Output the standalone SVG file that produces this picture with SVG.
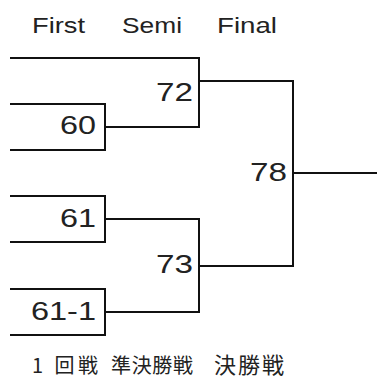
<svg xmlns="http://www.w3.org/2000/svg" width="377" height="379" viewBox="0 0 377 379">
<style>
.ln{fill:none;stroke:#111;stroke-width:2;stroke-linecap:square}
.lat{font-family:"Liberation Sans",Arial,sans-serif;fill:#222}
.num{font-family:"Liberation Sans",Arial,sans-serif;font-size:25px;fill:#222;text-anchor:end}
.jp{font-family:"Noto Sans CJK JP","Noto Sans",sans-serif;fill:#222}
</style>
<rect width="377" height="379" fill="#fff"/>
<g id="headers">
<text class="lat" x="32" y="33" font-size="22" textLength="53" lengthAdjust="spacingAndGlyphs">First</text>
<text class="lat" x="122" y="33" font-size="22" textLength="60" lengthAdjust="spacingAndGlyphs">Semi</text>
<text class="lat" x="217" y="33" font-size="22" textLength="60" lengthAdjust="spacingAndGlyphs">Final</text>
</g>
<g id="connectors">
<path class="ln" d="M11,58 H199 V127 H105"/>
<path class="ln" d="M199,81 H293 V266 H199"/>
<path class="ln" d="M293,173 H376"/>
<path class="ln" d="M105,219 H199 V312 H105"/>
</g>
<g id="m60">
<path class="ln" d="M11,104 H105 V150 H11"/>
<text class="num" x="96" y="134" textLength="36" lengthAdjust="spacingAndGlyphs">60</text>
</g>
<g id="m61">
<path class="ln" d="M11,196 H105 V242 H11"/>
<text class="num" x="96" y="227" textLength="36" lengthAdjust="spacingAndGlyphs">61</text>
</g>
<g id="m61-1">
<path class="ln" d="M11,289 H105 V335 H11"/>
<text class="num" x="96" y="320" textLength="65" lengthAdjust="spacingAndGlyphs">61-1</text>
</g>
<g id="m72">
<text class="num" x="193" y="101" textLength="37" lengthAdjust="spacingAndGlyphs">72</text>
</g>
<g id="m73">
<text class="num" x="193" y="273" textLength="37" lengthAdjust="spacingAndGlyphs">73</text>
</g>
<g id="m78">
<text class="num" x="287" y="181" textLength="37" lengthAdjust="spacingAndGlyphs">78</text>
</g>
<g id="footers">
<text class="jp" x="32" y="373" font-size="20" textLength="66">1 回戦</text>
<text class="jp" x="111" y="373" font-size="20" textLength="82">準決勝戦</text>
<text class="jp" x="214" y="372.5" font-size="22" textLength="70">決勝戦</text>
</g>
</svg>
